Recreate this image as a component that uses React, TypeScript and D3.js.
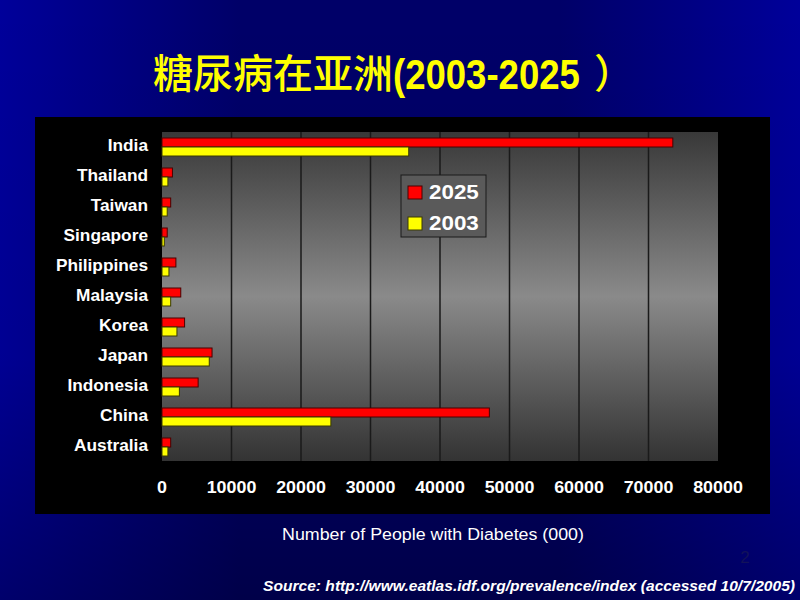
import React from "react";
import * as d3 from "d3";

const categories = ["India", "Thailand", "Taiwan", "Singapore", "Philippines", "Malaysia", "Korea", "Japan", "Indonesia", "China", "Australia"];
const seriesNames = ["2025", "2003"];
const values2025 = [73500, 1500, 1250, 750, 2000, 2700, 3250, 7200, 5200, 47100, 1250];
const values2003 = [35500, 850, 750, 330, 1000, 1250, 2150, 6800, 2500, 24300, 850];
const xTicks = [0, 10000, 20000, 30000, 40000, 50000, 60000, 70000, 80000];
const seriesColors = ["#ff0000", "#ffff00"];
const seriesStrokes = ["#4a0000", "#3a3a00"];

const W = 800;
const H = 600;
const SANS = "'Liberation Sans', Arial, sans-serif";
const CJK = "'Noto Sans CJK SC', sans-serif";

function SText(props: any) {
  const { x, y, sx = 1, children, ...rest } = props;
  return (
    <g transform={`translate(${x},${y}) scale(${sx},1)`}>
      <text x={0} y={0} {...rest}>{children}</text>
    </g>
  );
}

export default function App() {
  const plot = { left: 162, right: 718, top: 132, bottom: 462 };
  const x = d3.scaleLinear().domain([0, 80000]).range([plot.left, plot.right]);
  const y = d3.scaleBand<string>().domain(categories).range([plot.top, plot.bottom]).paddingInner(0.4).paddingOuter(0.2);
  const sub = d3.scaleBand<string>().domain(seriesNames).range([0, y.bandwidth()]);
  const series = [values2025, values2003];

  React.useEffect(() => {
    document.body.style.margin = "0";
  }, []);

  return (
    <svg width={W} height={H} style={{ display: "block", position: "absolute", left: 0, top: 0 }}>
      <defs>
        <linearGradient id="bgH" x1="0" y1="0" x2="1" y2="0">
          <stop offset="0" stopColor="#00009a" />
          <stop offset="0.3" stopColor="#000068" />
          <stop offset="0.7" stopColor="#000068" />
          <stop offset="1" stopColor="#00009a" />
        </linearGradient>
        <linearGradient id="bgV" x1="0" y1="0" x2="0" y2="1">
          <stop offset="0" stopColor="#000000" stopOpacity="0" />
          <stop offset="0.6" stopColor="#000000" stopOpacity="0.05" />
          <stop offset="1" stopColor="#000000" stopOpacity="0.3" />
        </linearGradient>
        <linearGradient id="plotG" x1="0" y1="0" x2="0" y2="1">
          <stop offset="0" stopColor="#383838" />
          <stop offset="0.5" stopColor="#8a8a8a" />
          <stop offset="1" stopColor="#333333" />
        </linearGradient>
      </defs>
      <rect x={0} y={0} width={W} height={H} fill="url(#bgH)" />
      <rect x={0} y={0} width={W} height={H} fill="url(#bgV)" />

      {/* Title */}
      <text x={153} y={88} fill="#ffff00" fontFamily={CJK} fontSize={40} fontWeight={500}>糖尿病在亚洲</text>
      <SText x={393} y={89} sx={0.87} fill="#ffff00" fontFamily={SANS} fontSize={42} fontWeight="bold">(2003-2025</SText>
      <text x={594} y={88} fill="#ffff00" fontFamily={CJK} fontSize={40} fontWeight={500}>）</text>

      {/* chart panel */}
      <rect x={35} y={117} width={735} height={397} fill="#000000" />
      <rect x={plot.left} y={plot.top} width={plot.right - plot.left} height={plot.bottom - 1 - plot.top} fill="url(#plotG)" />

      {xTicks.slice(1, -1).map((t) => (
        <line key={t} x1={x(t)} x2={x(t)} y1={plot.top} y2={plot.bottom - 1} stroke="#1a1a1a" strokeWidth={1.5} />
      ))}

      {/* bars */}
      {categories.map((c, i) => (
        <g key={c}>
          {seriesNames.map((s, j) => (
            <rect
              key={s}
              x={x(0)}
              y={(y(c) as number) + (sub(s) as number)}
              width={x(series[j][i]) - x(0)}
              height={sub.bandwidth()}
              fill={seriesColors[j]}
              stroke={seriesStrokes[j]}
              strokeWidth={1}
            />
          ))}
        </g>
      ))}

      {/* category labels */}
      {categories.map((c) => (
        <SText key={c} x={148} y={(y(c) as number) + y.bandwidth() / 2 + 4} sx={1.08} textAnchor="end" fill="#ffffff" fontFamily={SANS} fontSize={16} fontWeight="bold">
          {c}
        </SText>
      ))}

      {/* x tick labels */}
      {xTicks.map((t) => (
        <SText key={t} x={x(t)} y={493} sx={1.05} textAnchor="middle" fill="#ffffff" fontFamily={SANS} fontSize={17} fontWeight="bold">
          {String(t)}
        </SText>
      ))}

      {/* legend */}
      <rect x={401} y={175} width={85} height={62} fill="#5a5a5a" stroke="#1a1a1a" strokeWidth={1} />
      {seriesNames.map((s, j) => (
        <g key={s}>
          <rect x={408} y={186 + j * 31} width={14} height={13} fill={seriesColors[j]} stroke={seriesStrokes[j]} strokeWidth={1} />
          <SText x={429} y={199 + j * 31} sx={1.12} fill="#ffffff" fontFamily={SANS} fontSize={20} fontWeight="bold">
            {s}
          </SText>
        </g>
      ))}

      {/* axis title */}
      <SText x={433} y={540} sx={1.08} textAnchor="middle" fill="#ffffff" fontFamily={SANS} fontSize={16.5}>
        Number of People with Diabetes (000)
      </SText>

      <text x={745} y={563} textAnchor="middle" fill="#12125a" fontFamily={SANS} fontSize={17}>2</text>

      <SText x={795} y={591} sx={1.075} textAnchor="end" fill="#ffffff" fontFamily={SANS} fontSize={14.5} fontWeight="bold" fontStyle="italic">
        Source: http://www.eatlas.idf.org/prevalence/index (accessed 10/7/2005)
      </SText>
    </svg>
  );
}
